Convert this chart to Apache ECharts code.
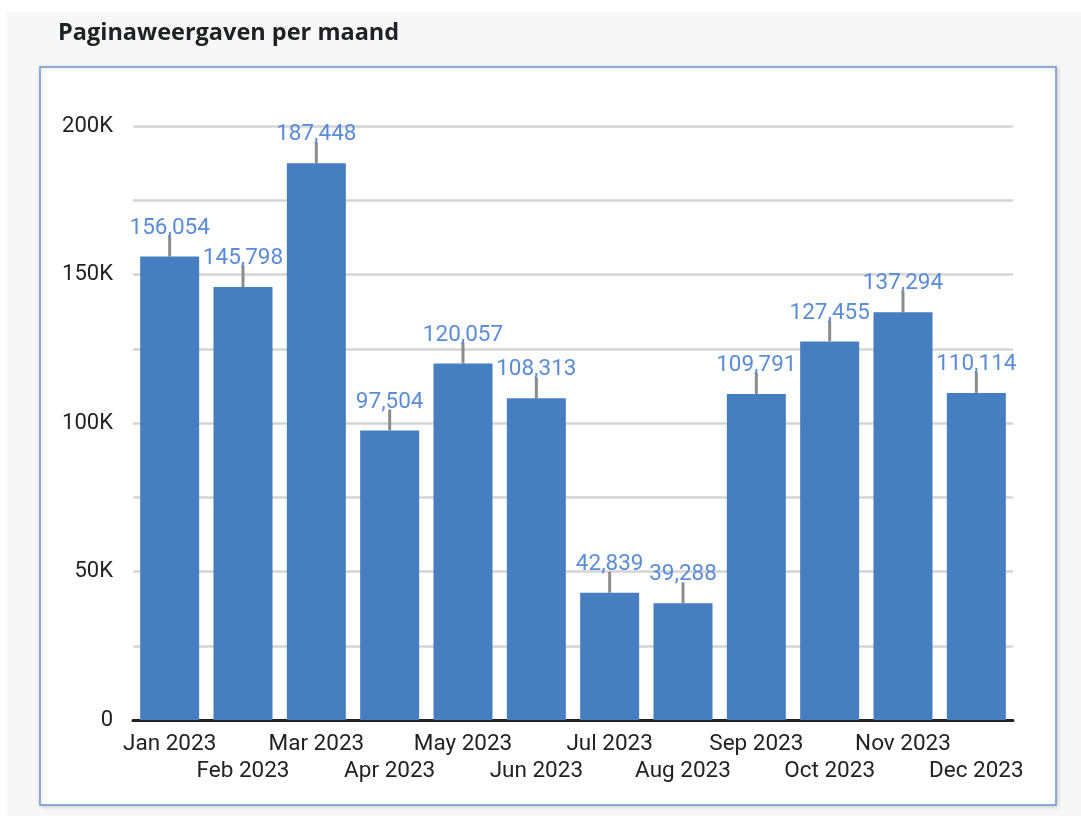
<!DOCTYPE html>
<html>
<head>
<meta charset="utf-8">
<script src="https://cdn.jsdelivr.net/npm/echarts@6/dist/echarts.min.js"></script>
<style>
html,body{margin:0;padding:0;background:#ffffff;}
#chart{width:1081px;height:816px;}
</style>
</head>
<body>
<div id="chart"></div>
<script>
const title = 'Paginaweergaven per maand';
const categories = ['Jan 2023','Feb 2023','Mar 2023','Apr 2023','May 2023','Jun 2023','Jul 2023','Aug 2023','Sep 2023','Oct 2023','Nov 2023','Dec 2023'];
const pageviews = [156054,145798,187448,97504,120057,108313,42839,39288,109791,127455,137294,110114];
const yMax = 200000;
const yStep = 25000;

const FONT = 'Roboto, "Noto Sans", sans-serif';
const chart = echarts.init(document.getElementById('chart'), null, {renderer:'canvas'});

const fmtNum = v => v.toLocaleString('en-US');

chart.setOption({
  animation: false,
  backgroundColor: '#ffffff',
  graphic: [
    {type:'rect', z:-10, silent:true, shape:{x:7,y:12,width:1074,height:804}, style:{fill:'#f7f7f7'}},
    {type:'rect', z:-9, silent:true, shape:{x:40,y:67,width:1016,height:738},
     style:{fill:'#ffffff', stroke:'#6d98d1', lineWidth:1.5, shadowBlur:4, shadowColor:'rgba(0,0,0,0.18)', shadowOffsetX:1, shadowOffsetY:1}}
  ],
  title: {
    text: title, left: 53, top: 16,
    textStyle: {fontFamily: '"Open Sans", Roboto, sans-serif', fontSize: 23.5, fontWeight: 'bold', color: '#202124'}
  },
  grid: {left:133, right:68, top:126, bottom:96, containLabel:false},
  xAxis: {
    type:'category', data: categories,
    axisLine: {show:true, lineStyle:{color:'#222', width:3}},
    axisTick: {show:false},
    axisLabel: {
      interval: 0, margin: 11, fontFamily: FONT, fontSize: 22.5, color:'#222', lineHeight: 27,
      formatter: (v, i) => (i % 2 === 1 ? '\n' + v : v)
    }
  },
  yAxis: {
    type:'value', min:0, max:yMax, interval:yStep,
    axisLine:{show:false}, axisTick:{show:false},
    splitLine:{show:true, lineStyle:{color:'#d4d4d4', width:2.5}},
    axisLabel:{
      margin: 20, fontFamily: FONT, fontSize: 22, color:'#222',
      formatter: v => (v % 50000 !== 0 ? '' : (v === 0 ? '0' : (v/1000) + 'K'))
    }
  },
  series: [
    {
      type:'custom', z:2, silent:true,
      data: pageviews.map((v,i)=>[i,v]),
      renderItem: (params, api) => {
        const p = api.coord([api.value(0), api.value(1)]);
        return {type:'line', shape:{x1:p[0], y1:p[1], x2:p[0], y2:p[1]-21},
                style:{stroke:'#8c8c8c', lineWidth:3}};
      }
    },
    {
      type:'bar', z:3, data: pageviews, barWidth: 59,
      itemStyle:{color:'#477ebf'},
      label:{
        show:true, position:'top', distance:17,
        fontFamily: FONT, fontSize: 22.5, color:'#5b8cd6',
        formatter: p => fmtNum(p.value)
      }
    }
  ]
});
</script>
</body>
</html>
